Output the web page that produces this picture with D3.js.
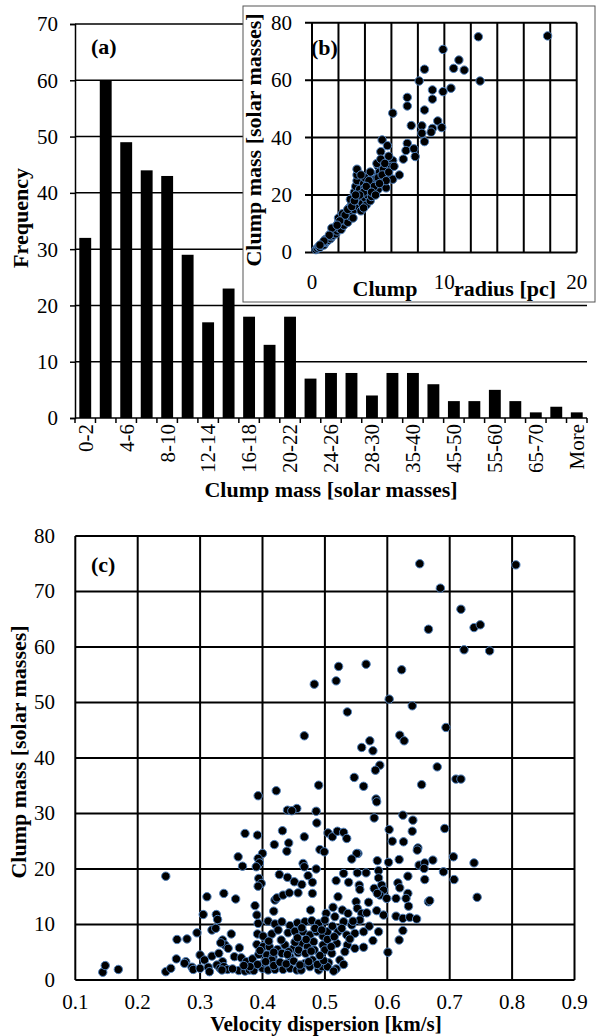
<!DOCTYPE html>
<html><head><meta charset="utf-8">
<script src="https://cdn.jsdelivr.net/npm/d3@7/dist/d3.min.js"></script>
<style>
html,body{margin:0;padding:0;background:#fff;}
text{font-family:"Liberation Serif","Times New Roman",serif;fill:#000;}
</style></head>
<body>
<svg id="chart" width="597" height="1036"></svg>
<script>
// ---------- DATA ----------
const histCategories = ["0-2","2-4","4-6","6-8","8-10","10-12","12-14","14-16","16-18","18-20","20-22","22-24","24-26","26-28","28-30","30-35","35-40","40-45","45-50","50-55","55-60","60-65","65-70","70-75","More"];
const histFrequency = [32,60,49,44,43,29,17,23,18,13,18,7,8,8,4,8,8,6,3,3,5,3,1,2,1];
const histYTicks = [0,10,20,30,40,50,60,70];

// inset (b): clump radius [pc], clump mass [solar masses]
const insetRadius = [12.57,17.8,9.9,11.1,10.7,11.5,8.5,8.1,12.7,9.1,9.1,9.9,10.5,7.2,7.2,6.1,8.5,9.5,7.5,8.3,8.3,8.5,9.1,9.8,9.0,5.3,5.7,5.2,7.2,7.1,7.7,7.8,6.9,6.1,
 0.3,0.4,0.5,0.6,0.7,0.8,0.9,1.0,1.0,1.1,1.2,1.2,1.3,1.4,1.4,1.5,1.6,1.6,1.7,1.8,1.8,1.9,2.0,2.0,2.1,2.2,2.2,2.3,2.4,2.4,2.5,2.6,2.6,2.7,2.8,2.8,2.9,3.0,3.0,3.1,3.2,3.2,3.3,3.3,3.4,3.4,3.4,3.5,3.5,3.6,3.6,3.7,3.8,3.8,3.9,4.0,4.0,4.1,4.2,4.2,4.3,4.4,4.5,4.5,4.6,4.6,4.7,4.8,4.9,5.0,5.0,5.1,5.2,5.3,5.4,5.5,5.6,5.7,5.9,6.0,6.1,2.0,1.5,2.3,2.9,3.1,3.9,4.4,4.9,5.2,5.8,
 4.0,4.3,4.7,5.0,5.3,5.6,5.8,3.7,3.9,4.1,4.5,4.8,5.1,2.5,2.7,3.0,3.2,3.6,3.3,2.1,1.9,1.3,0.9,0.6,6.2,5.5,6.6];
const insetMass = [75.1,75.4,70.7,67.0,64.1,63.5,63.8,59.7,59.7,56.6,53.4,56.0,57.2,54.0,51.0,48.5,49.6,45.8,44.2,44.1,41.5,38.6,43.2,43.5,41.9,39.2,37.2,35.1,38.0,35.5,36.1,33.4,32.5,32.0,
 1.0,1.5,2.0,1.8,2.5,3.0,2.6,3.5,4.5,3.8,5.0,4.2,5.5,4.8,6.5,5.5,7.0,6.0,8.0,6.5,9.0,7.5,8.5,10.5,9.5,11.5,8.0,10.0,12.5,9.5,11.0,14.0,12.0,10.5,13.0,15.5,12.5,14.0,17.0,19.0,15.0,21.0,23.0,17.5,25.0,27.0,29.0,20.0,16.0,22.0,18.0,14.5,20.5,17.0,24.0,19.0,22.5,16.5,25.0,20.0,22.0,18.0,24.0,19.5,27.0,21.5,25.5,23.0,26.0,30.0,22.0,28.0,25.0,24.0,29.0,27.0,22.5,26.5,26.0,30.0,25.5,12.0,8.5,13.5,18.5,12.0,15.5,28.0,31.0,32.5,33.5,
 26,25,23,26,27,25,28,27,21,23,21,20,24,13,15,16,18,20,20,11,9.5,6,4,2.6,30,31,27];
const insetXTicks = [0,10,20];
const insetYTicks = [0,20,40,60,80];

// panel (c): velocity dispersion [km/s], clump mass [solar masses]
const velDisp = [0.652,0.806,0.685,0.718,0.666,0.739,0.749,0.723,0.764,
0.522,0.566,0.623,0.518,0.483,0.603,0.640,0.536,
0.467,0.694,0.620,0.627,0.572,0.559,0.577,
0.588,0.581,0.680,0.547,0.710,0.718,
0.562,0.490,0.655,0.422,0.393,0.582,0.583,
0.440,0.455,0.486,0.447,0.487,0.579,0.625,0.641,
0.640,0.603,0.608,0.626,0.649,0.692,
0.372,0.392,0.432,0.467,0.419,0.442,0.439,0.400,
0.505,0.512,0.520,0.530,0.535,0.492,0.499,0.553,0.361,
0.368,0.393,0.395,0.390,0.427,0.440,0.451,0.394,0.398,0.393,
0.245,0.311,0.338,0.357,0.420,0.423,0.433,0.443,0.418,0.388,
0.305,0.326,0.328,0.391,0.393,
0.409,0.420,0.431,0.444,0.456,
0.295,0.319,0.325,0.350,0.392,0.401,0.415,0.425,0.441,0.452,
0.263,0.279,0.336,0.340,0.333,0.363,
0.391,0.401,0.411,0.424,0.436,0.449,
0.262,0.277,0.300,0.307,0.319,0.330,0.336,0.345,0.355,0.366,0.374,
0.384,0.394,0.407,0.417,0.431,0.444,0.457,
0.144,0.148,0.169,0.245,0.253,0.275,0.287,0.289,
0.300,0.313,0.315,0.327,0.332,0.338,0.344,
0.362,0.372,0.379,0.386,0.400,0.409,0.420,0.433,0.444,0.455,0.402,0.415,
0.465,0.467,0.486,0.463,0.473,0.480,0.457,0.480,0.477,0.502,
0.468,0.479,0.490,0.500,
0.465,0.476,0.487,0.497,
0.462,0.472,0.482,0.497,
0.442,0.458,0.469,0.483,
0.468,0.480,0.462,0.476,0.490,0.495,
0.551,0.543,0.584,0.602,0.619,0.648,0.651,0.660,0.673,0.706,0.739,0.659,0.690,0.707,
0.530,0.552,0.566,0.586,0.586,0.518,0.538,0.633,0.660,0.555,0.556,
0.579,0.591,0.594,0.588,0.599,0.617,0.620,0.633,0.630,0.634,0.614,
0.521,0.550,0.570,0.584,0.666,0.668,0.744,
0.513,0.528,0.537,0.552,0.559,0.567,0.583,0.594,
0.614,0.625,0.636,0.647,
0.516,0.530,0.543,0.556,0.571,0.586,0.625,0.619,0.601,
0.504,0.521,0.535,0.548,0.562,0.577,
0.504,0.519,0.536,0.548,0.562,
0.500,0.511,0.524,0.506,0.504,
0.392,0.405,0.418,0.428,0.438,0.450,0.460,0.474,0.488,0.498,
0.396,0.418,0.440,0.452,0.478,0.492,
0.510,0.515,0.527,0.512,0.532,0.540,0.545,0.518,0.530,0.514,
0.470,0.456,0.430,0.410,0.484,0.463,0.495,
0.380,0.370,0.352,0.335];
const clumpMassC = [75.0,74.8,70.6,66.8,63.2,63.5,64.0,59.5,59.3,
56.5,56.9,55.9,53.9,53.3,50.6,49.4,48.3,
44.0,45.5,44.1,43.1,43.1,41.9,41.3,
38.7,37.8,38.4,36.5,36.2,36.2,
34.9,35.1,35.2,34.1,33.2,32.6,32.1,
30.6,30.9,30.4,30.5,28.3,29.2,29.7,28.8,
26.8,27.1,25.0,24.9,23.8,27.3,
26.4,26.1,26.9,25.8,24.4,24.7,23.2,22.8,
26.5,25.8,26.8,26.6,25.5,23.5,23.1,22.8,22.2,
20.5,21.9,21.1,20.4,19.0,18.5,17.7,18.3,17.4,16.9,
18.7,15.0,15.6,14.6,14.4,14.8,15.3,15.7,12.4,13.4,
11.8,11.8,10.9,11.7,10.2,
10.6,10.1,10.5,9.8,10.3,
8.5,9.0,9.3,8.3,8.3,7.9,8.3,9.0,8.5,8.8,
7.3,7.4,7.2,6.3,6.7,5.8,
6.4,6.0,6.0,5.5,6.3,5.6,
3.8,3.3,4.5,3.6,4.3,4.8,3.3,5.7,4.2,4.0,3.3,
3.8,4.6,4.5,4.2,4.8,4.2,4.9,
1.4,2.6,1.9,1.5,2.1,3.0,2.3,1.9,
2.1,2.3,1.5,2.7,2.1,2.4,1.9,
1.7,1.6,1.8,1.7,2.1,1.8,1.9,1.9,2.1,1.8,3.1,3.6,
21.0,20.4,20.0,17.2,18.8,17.6,15.7,15.6,12.6,12.0,
10.5,10.7,10.2,10.8,
8.7,8.1,8.7,7.9,
6.6,6.0,6.9,6.3,
5.1,5.4,4.8,5.4,
3.0,3.6,1.8,2.4,1.8,2.4,
22.8,21.8,21.5,21.2,21.7,23.4,20.7,21.1,21.6,22.2,21.1,20.1,19.5,18.1,
19.2,19.3,19.3,19.7,18.4,17.9,17.6,18.7,18.1,17.1,16.3,
16.5,17.1,16.2,15.3,14.7,17.5,16.6,15.6,14.7,13.3,14.7,
15.0,14.1,14.0,15.6,14.1,14.3,14.9,
13.1,12.6,12.0,12.9,12.0,12.1,12.5,11.7,
11.5,11.1,11.3,11.0,
11.4,10.5,9.9,10.8,9.7,8.7,8.9,7.2,5.0,
8.7,8.7,8.1,8.4,8.7,7.1,
7.3,6.6,6.3,5.7,5.9,
5.4,4.8,3.6,3.1,2.4,
2.8,3.3,2.6,3.2,2.9,3.4,2.7,3.3,2.8,3.5,
5.3,5.0,4.6,6.8,5.2,4.4,
6.0,7.8,9.3,9.7,5.1,7.4,10.6,2.0,2.8,1.6,
7.3,7.6,7.2,7.0,9.3,9.4,9.0,
2.4,2.6,2.0,1.8];
const cXTicks = [0.1,0.2,0.3,0.4,0.5,0.6,0.7,0.8,0.9];
const cYTicks = [0,10,20,30,40,50,60,70,80];

// ---------- DRAW ----------
const svg = d3.select("#chart");
svg.append("rect").attr("width",597).attr("height",1036).attr("fill","#fff");
const TICK_FS = 21, TITLE_FS = 22;
const dotFill = "#000", dotStroke = "#4f81bd";

// ===== Panel (a) histogram =====
const ax = d3.scaleBand().domain(histCategories).range([75, 587]).paddingInner(0.42).paddingOuter(0.21);
const ay = d3.scaleLinear().domain([0,70]).range([418, 24]);
const gA = svg.append("g");
gA.selectAll("line.grid").data(histYTicks.filter(d=>d>0)).join("line")
  .attr("x1", 75).attr("x2", 587).attr("y1", d=>ay(d)).attr("y2", d=>ay(d))
  .attr("stroke","#000").attr("stroke-width",1.5);
gA.selectAll("rect.bar").data(histFrequency).join("rect")
  .attr("x",(d,i)=>ax(histCategories[i])).attr("width",ax.bandwidth())
  .attr("y",d=>ay(d)).attr("height",d=>ay(0)-ay(d)).attr("fill","#000");
const yAxisA = d3.axisLeft(ay).tickValues(histYTicks).tickSize(5).tickFormat(d3.format("d"));
const gyA = gA.append("g").attr("transform","translate(75,0)").call(yAxisA);
gyA.attr("font-family",null);
gyA.select(".domain").attr("stroke","#000").attr("stroke-width",1.5);
gyA.selectAll(".tick line").attr("stroke","#000").attr("stroke-width",1.5);
gyA.selectAll(".tick text").attr("font-size",TICK_FS).attr("x",-17).attr("dy","0.33em");
gA.append("line").attr("x1",75).attr("x2",587).attr("y1",ay(0)).attr("y2",ay(0)).attr("stroke","#000").attr("stroke-width",1.5);
const step = ax.step();
const boundaries = d3.range(histCategories.length+1).map(i => ax.range()[0] + i*step);
gA.selectAll("line.xt").data(boundaries).join("line")
  .attr("x1",d=>d).attr("x2",d=>d).attr("y1",ay(0)).attr("y2",ay(0)+5).attr("stroke","#000").attr("stroke-width",1.5);
gA.selectAll("text.xl").data(histCategories.filter((d,i)=>i%2===0)).join("text")
  .attr("transform",d=>`translate(${ax(d)+ax.bandwidth()/2},424) rotate(-90)`)
  .attr("text-anchor","end").attr("dy","0.35em").attr("font-size",TICK_FS).text(d=>d);
gA.append("text").attr("x",331).attr("y",497).attr("text-anchor","middle")
  .attr("font-size",TITLE_FS).attr("font-weight","bold").text("Clump mass [solar masses]");
gA.append("text").attr("transform","translate(28,218) rotate(-90)").attr("text-anchor","middle")
  .attr("font-size",TITLE_FS).attr("font-weight","bold").text("Frequency");
gA.append("text").attr("x",91).attr("y",54).attr("font-size",TITLE_FS).attr("font-weight","bold").text("(a)");

// ===== Inset (b) =====
const gB = svg.append("g");
gB.append("rect").attr("x",243).attr("y",6).attr("width",352).attr("height",296)
  .attr("fill","#fff").attr("stroke","#555").attr("stroke-width",1);
const bx = d3.scaleLinear().domain([0,20]).range([312, 576.7]);
const by = d3.scaleLinear().domain([0,80]).range([252.5, 22.7]);
gB.selectAll("line.vg").data(d3.range(0,21,2)).join("line")
  .attr("x1",d=>bx(d)).attr("x2",d=>bx(d)).attr("y1",by(0)).attr("y2",by(80))
  .attr("stroke","#000").attr("stroke-width",2);
gB.selectAll("line.hg").data(insetYTicks).join("line")
  .attr("x1",bx(0)-7).attr("x2",bx(20)).attr("y1",d=>by(d)).attr("y2",d=>by(d))
  .attr("stroke","#000").attr("stroke-width",2);
gB.selectAll("text.yl").data(insetYTicks).join("text")
  .attr("x",292).attr("y",d=>by(d)).attr("dy","0.33em").attr("text-anchor","end")
  .attr("font-size",TICK_FS).text(d=>d);
gB.selectAll("text.xl").data(insetXTicks).join("text")
  .attr("x",d=>bx(d)).attr("y",289).attr("text-anchor","middle")
  .attr("font-size",TICK_FS).text(d=>d);
gB.selectAll("circle").data(insetRadius).join("circle")
  .attr("cx",d=>bx(d)).attr("cy",(d,i)=>by(insetMass[i])).attr("r",4.2)
  .attr("fill",dotFill).attr("stroke",dotStroke).attr("stroke-width",1);
gB.append("text").attr("x",385).attr("y",296).attr("text-anchor","middle")
  .attr("font-size",TITLE_FS).attr("font-weight","bold").text("Clump");
gB.append("text").attr("x",505).attr("y",296).attr("text-anchor","middle")
  .attr("font-size",TITLE_FS).attr("font-weight","bold").text("radius [pc]");
gB.append("text").attr("transform","translate(261,140) rotate(-90)").attr("text-anchor","middle")
  .attr("font-size",TITLE_FS).attr("font-weight","bold").text("Clump mass [solar masses]");
gB.append("text").attr("x",311).attr("y",55).attr("font-size",TITLE_FS).attr("font-weight","bold").text("(b)");

// ===== Panel (c) =====
const gC = svg.append("g");
const cx = d3.scaleLinear().domain([0.1,0.9]).range([75.3, 574.5]);
const cy = d3.scaleLinear().domain([0,80]).range([980, 536]);
gC.selectAll("line.vg").data(cXTicks).join("line")
  .attr("x1",d=>cx(d)).attr("x2",d=>cx(d)).attr("y1",cy(0)).attr("y2",cy(80))
  .attr("stroke","#000").attr("stroke-width",2);
gC.selectAll("line.hg").data(cYTicks).join("line")
  .attr("x1",cx(0.1)).attr("x2",cx(0.9)).attr("y1",d=>cy(d)).attr("y2",d=>cy(d))
  .attr("stroke","#000").attr("stroke-width",2);
gC.selectAll("text.yl").data(cYTicks).join("text")
  .attr("x",55).attr("y",d=>cy(d)).attr("dy","0.33em").attr("text-anchor","end")
  .attr("font-size",TICK_FS).text(d=>d);
gC.selectAll("text.xl").data(cXTicks).join("text")
  .attr("x",d=>cx(d)).attr("y",1009).attr("text-anchor","middle")
  .attr("font-size",TICK_FS).text(d=>d3.format(".1f")(d));
gC.selectAll("circle").data(velDisp).join("circle")
  .attr("cx",d=>cx(d)).attr("cy",(d,i)=>cy(clumpMassC[i])).attr("r",4.2)
  .attr("fill",dotFill).attr("stroke",dotStroke).attr("stroke-width",1);
gC.append("text").attr("x",326).attr("y",1031).attr("text-anchor","middle")
  .attr("font-size",21).attr("font-weight","bold").text("Velocity dispersion [km/s]");
gC.append("text").attr("transform","translate(26,752) rotate(-90)").attr("text-anchor","middle")
  .attr("font-size",TITLE_FS).attr("font-weight","bold").text("Clump mass [solar masses]");
gC.append("text").attr("x",91).attr("y",572).attr("font-size",TITLE_FS).attr("font-weight","bold").text("(c)");
</script>
</body></html>
